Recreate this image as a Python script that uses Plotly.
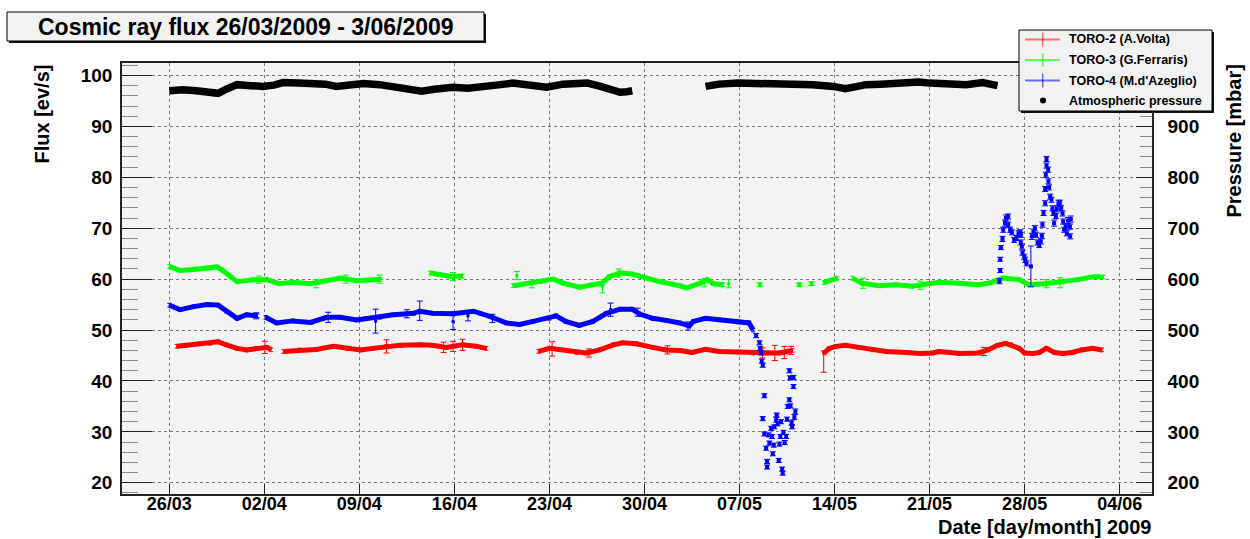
import plotly.graph_objects as go
import pandas as pd

# ---------------- data ----------------
# time: days since 26/03/2009 00:00 ; flux in ev/s ; pressure in mbar
BASE = pd.Timestamp("2009-03-26")

tick_dates = ["2009-03-26", "2009-04-02", "2009-04-09", "2009-04-16", "2009-04-23",
              "2009-04-30", "2009-05-07", "2009-05-14", "2009-05-21", "2009-05-28", "2009-06-04"]
tick_labels = ["26/03", "02/04", "09/04", "16/04", "23/04", "30/04",
               "07/05", "14/05", "21/05", "28/05", "04/06"]
flux_ticks = [20, 30, 40, 50, 60, 70, 80, 90, 100]
pressure_ticks = [200, 300, 400, 500, 600, 700, 800, 900]

# TORO-2 (A.Volta) – red, continuous segments
red_t = [
    [0.55, 1.3, 2.3, 3.0, 3.6, 4.2, 5.0, 5.7, 6.4, 7.2, 7.5],
    [8.4, 9.6, 10.8, 12.1, 13.1, 14.1, 15.0, 16.0, 17.0, 18.45, 19.4, 20.4, 21.6, 22.6, 23.35],
    [27.2, 28.0, 28.7, 30.0, 30.7, 31.7, 32.7, 33.4, 34.4, 35.6, 36.6, 37.6, 38.5, 39.5, 40.5,
     41.9, 43.0, 44.0, 44.9, 45.9],
    [48.25, 48.6, 49.1, 49.8, 50.8, 51.8, 52.8, 54.3, 55.3, 56.2, 56.7, 58.2, 59.6, 60.3, 61.0,
     61.6, 62.0, 62.6, 63.0, 63.6, 64.1, 64.6, 65.2, 65.8, 66.5, 67.2, 68.0, 68.7],
]
red_v = [
    [46.8, 47.0, 47.3, 47.4, 47.7, 47.1, 46.4, 46.1, 46.4, 46.6, 46.1],
    [45.8, 46.1, 46.2, 46.8, 46.4, 46.1, 46.4, 46.8, 47.0, 47.1, 47.0, 46.6, 47.1, 46.8, 46.4],
    [45.8, 46.4, 46.2, 45.6, 45.5, 46.1, 47.1, 47.5, 47.3, 46.6, 46.1, 46.0, 45.6, 46.2, 45.8,
     45.7, 45.5, 45.5, 45.5, 46.0],
    [45.5, 46.4, 46.8, 47.0, 46.6, 46.1, 45.8, 45.6, 45.4, 45.5, 45.8, 45.4, 45.5, 46.1, 47.0,
     47.4, 47.1, 46.4, 45.5, 45.4, 45.6, 46.4, 45.6, 45.4, 45.6, 46.1, 46.4, 46.1],
]
red_err = 0.35
# red points with visible (larger) error bars
red_bar_t = [7.05, 16.0, 20.2, 20.9, 21.6, 28.2, 30.9, 36.7, 43.7, 44.6, 45.3, 45.8, 48.2, 60.0]
red_bar_v = [46.6, 46.8, 46.6, 46.8, 47.1, 46.3, 45.5, 46.1, 45.5, 45.5, 45.6, 46.0, 45.6, 45.8]
red_bar_up = [1.2, 1.3, 1.0, 1.0, 1.1, 1.4, 0.8, 0.8, 1.0, 1.5, 1.2, 0.8, 0.3, 0.8]
red_bar_dn = [1.2, 1.3, 1.0, 1.0, 1.1, 1.4, 0.8, 0.8, 1.0, 1.5, 1.2, 0.8, 3.9, 0.8]

# TORO-3 (G.Ferraris) – green
green_t = [
    [0, 0.8, 1.8, 2.8, 3.5, 3.9, 4.5, 5.0, 6.2, 7.2, 8.1, 9.1, 10.4, 11.6, 12.6, 13.8, 15.55],
    [19.2, 19.9, 20.8, 21.6],
    [25.3, 26.3, 27.3, 28.3, 29.0, 30.2, 31.2, 31.9, 32.4, 33.2, 34.1, 35.1, 36.1, 37.6, 38.1,
     39.1, 39.6, 40.1, 40.8],
    [43.4, 43.6],
    [46.3, 46.5],
    [47.2, 47.4],
    [48.2, 48.6, 49.2],
    [50.3, 51.0, 52.3, 53.5, 54.7, 55.9, 56.7, 58.2, 59.6, 60.5, 61.4, 62.6, 63.3, 64.5, 65.9,
     66.9, 68.2, 68.8],
]
green_v = [
    [62.5, 61.7, 61.9, 62.2, 62.4, 61.8, 60.5, 59.5, 59.9, 59.9, 59.1, 59.4, 59.1, 59.7, 60.2, 59.7, 60.0],
    [61.2, 60.9, 60.5, 60.6],
    [58.7, 59.1, 59.5, 60.0, 59.2, 58.4, 58.9, 59.2, 60.5, 61.2, 61.0, 60.2, 59.5, 58.7, 58.3,
     59.2, 59.9, 59.1, 58.9],
    [58.9, 58.9],
    [58.9, 58.9],
    [59.1, 59.1],
    [59.3, 59.7, 60.2],
    [60.2, 59.2, 58.7, 58.9, 58.6, 59.1, 59.4, 59.2, 58.9, 59.3, 60.2, 59.9, 58.9, 59.1, 59.5,
     59.9, 60.5, 60.4],
]
green_err = 0.35
green_bar_t = [6.6, 10.8, 13.0, 15.5, 20.9, 25.6, 26.7, 31.9, 33.1, 39.4, 41.2, 51.1, 55.3, 64.6, 65.6]
green_bar_v = [59.9, 59.1, 60.0, 60.0, 60.5, 60.7, 59.1, 58.6, 61.2, 59.3, 59.1, 59.2, 58.8, 59.1, 59.3]
green_bar_e = [0.7, 0.8, 0.8, 0.8, 0.8, 0.8, 0.8, 1.3, 0.8, 0.8, 0.8, 1.0, 0.8, 0.8, 1.0]

# TORO-4 (M.d'Azeglio) – blue
blue_t = [
    [0, 0.8, 1.8, 2.8, 3.6, 4.2, 5.0, 5.7, 6.5],
    [7.1, 7.9, 9.1, 10.4, 11.6, 12.6, 13.8, 14.5, 15.5, 16.5, 18.0, 18.45, 19.4, 20.9, 22.4,
     23.6, 24.8, 25.8, 26.8, 28.0, 28.5, 29.2, 30.2, 31.2, 32.2, 33.2, 34.1, 34.6, 35.6, 36.6,
     37.6, 38.3, 38.6, 39.5, 40.5, 41.9, 42.7, 43.0],
]
blue_v = [
    [54.9, 54.0, 54.6, 55.0, 54.9, 53.7, 52.3, 53.0, 52.8],
    [52.5, 51.4, 51.8, 51.5, 52.5, 52.5, 52.0, 52.3, 52.5, 53.0, 53.3, 53.7, 53.3, 53.2, 53.7,
     52.7, 51.4, 51.1, 51.7, 52.3, 52.8, 51.7, 50.9, 51.7, 53.3, 54.1, 54.1, 53.2, 52.3, 51.9,
     51.4, 50.8, 51.7, 52.3, 52.0, 51.6, 51.4, 50.0],
]
blue_err = 0.35
blue_bar_t = [6.4, 11.7, 15.2, 17.5, 18.45, 20.9, 22.0, 23.8, 32.5, 34.5, 38.2]
blue_bar_v = [52.8, 52.5, 51.75, 53.2, 53.8, 51.7, 52.8, 52.3, 54.0, 53.5, 50.8]
blue_bar_e = [0.6, 1.0, 2.35, 0.8, 1.9, 1.6, 1.0, 0.8, 1.3, 0.8, 0.8]
# scattered blue points, early May drop
blue_drop_t = [43.22, 43.47, 43.52, 43.59, 43.64, 43.71, 43.83, 43.71, 43.83, 43.96,
               44.03, 44.03, 44.15, 44.2, 44.33, 44.4, 44.45, 44.52, 44.57, 44.7,
               44.74, 44.81, 44.89, 44.94, 45.01, 45.06, 45.14, 45.18, 45.23, 45.33,
               45.43, 45.5, 45.55, 45.67, 45.72, 45.67, 45.75, 45.84, 45.87, 45.97,
               45.97, 46.04, 46.11]
blue_drop_v = [48.9, 47.5, 46.4, 45.5, 43.9, 43.1, 37.1, 32.6, 29.6, 26.8,
               24.2, 23.1, 29.4, 27.8, 30.7, 29.1, 25.7, 27.4, 31.0, 32.4,
               33.3, 31.6, 24.4, 27.6, 29.1, 32.0, 22.7, 21.9, 29.9, 27.9,
               29.1, 32.5, 35.0, 36.3, 40.6, 42.0, 35.1, 31.8, 31.0, 38.9,
               40.7, 32.9, 34.0]
blue_drop_e = [0.4, 0.4, 0.4, 0.4, 0.4, 0.4, 0.4, 0.4, 0.4, 0.4,
               0.4, 0.4, 0.4, 0.4, 0.4, 0.4, 0.4, 0.4, 0.4, 0.5,
               0.4, 0.4, 0.4, 0.4, 0.4, 0.4, 0.4, 0.4, 0.4, 0.4,
               0.4, 0.4, 0.4, 0.4, 0.4, 0.4, 0.4, 0.5, 0.4, 0.4,
               0.4, 0.5, 0.5]
# scattered blue points, end of May spike
blue_spike_t = [61.15, 61.2, 61.2, 61.25, 61.37, 61.42, 61.55, 61.62, 61.79, 61.79,
                61.93, 62.06, 62.23, 62.4, 62.55, 62.67, 62.72, 62.72, 62.8, 62.84,
                62.97, 63.04, 63.14, 63.46, 63.53, 63.65, 63.75, 63.83, 63.95, 64.07,
                64.19, 64.27, 64.31, 64.39, 64.51, 64.51, 64.56, 64.61, 64.61, 64.73,
                64.75, 64.8, 64.88, 64.98, 65.05, 65.12, 65.17, 65.3, 65.37, 65.49,
                65.59, 65.69, 65.79, 65.84, 65.91, 66.03, 66.11, 66.2, 66.33, 66.35, 66.4]
blue_spike_v = [59.6, 61.7, 63.9, 66.2, 67.9, 69.7, 71.0, 72.0, 72.3, 70.7,
                69.7, 69.2, 67.7, 68.1, 69.0, 69.2, 68.7, 67.2, 66.4, 65.2,
                64.4, 63.8, 63.1, 62.5, 68.4, 69.2, 70.0, 68.7, 67.2, 66.7,
                67.4, 68.5, 70.7, 73.0, 74.9, 77.7, 80.5, 82.3, 83.6, 81.5,
                79.2, 78.0, 76.2, 75.6, 73.9, 73.0, 71.0, 72.4, 73.8, 74.9,
                75.0, 73.9, 72.9, 71.3, 69.7, 70.3, 69.0, 71.5, 70.3, 68.4, 71.8]
blue_spike_e = [0.5, 0.4, 0.4, 0.4, 0.5, 0.5, 0.6, 0.6, 0.5, 0.5,
                0.5, 0.5, 0.5, 0.5, 0.5, 0.5, 0.5, 0.5, 0.5, 0.5,
                0.5, 0.5, 0.5, 4.0, 0.6, 0.6, 0.5, 0.5, 0.5, 0.5,
                0.5, 0.5, 0.5, 0.5, 0.5, 0.5, 0.5, 0.5, 0.5, 0.5,
                0.5, 0.5, 0.5, 0.5, 0.5, 0.5, 0.6, 0.5, 0.6, 0.6,
                0.5, 0.5, 0.5, 0.5, 0.5, 0.5, 0.5, 0.6, 0.5, 0.5, 0.6]

# Atmospheric pressure – black (mbar)
pres_t = [
    [0, 1.0, 2.0, 3.0, 3.6, 4.2, 5.0, 6.0, 6.9, 7.7, 8.4, 9.5, 10.6, 11.5, 12.3, 13.3, 14.3,
     15.5, 16.7, 17.7, 18.6, 19.5, 20.9, 22.0, 23.4, 24.4, 25.3, 26.5, 27.8, 29.0, 30.0, 30.8,
     31.7, 32.5, 33.2, 33.7, 34.1],
    [39.5, 40.5, 41.9, 43.5, 44.9, 46.2, 47.4, 48.9, 49.8, 50.6, 51.3, 52.4, 53.5, 54.4, 55.2,
     56.0, 56.7, 57.7, 58.7, 59.9, 60.5, 61.0],
]
pres_v = [
    [970, 972, 970, 967, 965, 973, 982, 980, 978.5, 981, 986, 985, 984, 983, 978.5, 981, 984,
     982, 977, 974, 969, 973, 977, 975, 977, 982, 985, 982, 977, 983, 986, 985,
     979, 972, 967, 968, 970],
    [978.5, 983, 985, 984, 986, 984, 982, 978.5, 974, 978, 982, 983, 985, 984, 987,
     985, 984, 982, 982, 986, 983, 980],
]

series_names = ["TORO-2 (A.Volta)", "TORO-3 (G.Ferraris)", "TORO-4 (M.d'Azeglio)", "Atmospheric pressure"]

# ---------------- helpers ----------------
def to_date(t):
    return (BASE + pd.Timedelta(days=t)).strftime("%Y-%m-%d %H:%M:%S")

def join(segs_t, segs_v):
    xs, ys = [], []
    for st, sv in zip(segs_t, segs_v):
        if xs:
            xs.append(None)
            ys.append(None)
        xs += [to_date(t) for t in st]
        ys += list(sv)
    return xs, ys

# pixel geometry of the frame
PL, PR, PT, PB = 122, 1152, 63, 494
def xp(X):
    return (X - PL) / (PR - PL)
def yp(Y):
    return (PB - Y) / (PB - PT)

RED, GREEN, BLUE = "#ff0000", "#00ff00", "#0000ff"
FONT = "Liberation Sans, Arial, Helvetica, sans-serif"

fig = go.Figure()

# pressure (right axis)
px_, py_ = join(pres_t, pres_v)
fig.add_trace(go.Scatter(x=px_, y=py_, mode="lines", yaxis="y2", name=series_names[3],
                         line=dict(color="black", width=7.5), showlegend=False))

def add_band(segs_t, segs_v, err, color, name):
    x, y = join(segs_t, segs_v)
    e = [None if v is None else err for v in y]
    fig.add_trace(go.Scatter(x=x, y=y, mode="lines", name=name, showlegend=False,
                             line=dict(color=color, width=5),
                             error_y=dict(type="data", array=e, visible=True, color=color,
                                          thickness=1, width=2)))

def add_points(ts, vs, eu, ed, color, name, size=4):
    fig.add_trace(go.Scatter(x=[to_date(t) for t in ts], y=vs, mode="markers", name=name,
                             showlegend=False,
                             marker=dict(color=color, size=size, symbol="square", line=dict(width=0)),
                             error_y=dict(type="data", symmetric=False, array=eu, arrayminus=ed,
                                          visible=True, color=color, thickness=1, width=3)))

add_band(red_t, red_v, red_err, RED, series_names[0])
add_points(red_bar_t, red_bar_v, red_bar_up, red_bar_dn, RED, series_names[0], size=3)
add_band(green_t, green_v, green_err, GREEN, series_names[1])
add_points(green_bar_t, green_bar_v, green_bar_e, green_bar_e, GREEN, series_names[1], size=3)
add_band(blue_t, blue_v, blue_err, BLUE, series_names[2])
add_points(blue_bar_t, blue_bar_v, blue_bar_e, blue_bar_e, BLUE, series_names[2], size=3)
add_points(blue_drop_t, blue_drop_v, blue_drop_e, blue_drop_e, BLUE, series_names[2])
add_points(blue_spike_t, blue_spike_v, blue_spike_e, blue_spike_e, BLUE, series_names[2])

# ---------------- shapes: title box & legend ----------------
shapes = []
def rect(x0, y0, x1, y1, fill, line_color=None, lw=0):
    shapes.append(dict(type="rect", xref="paper", yref="paper",
                       x0=xp(x0), x1=xp(x1), y0=yp(y1), y1=yp(y0),
                       fillcolor=fill, line=dict(color=line_color or fill, width=lw)))
def seg(x0, y0, x1, y1, color, w):
    shapes.append(dict(type="line", xref="paper", yref="paper",
                       x0=xp(x0), x1=xp(x1), y0=yp(y0), y1=yp(y1),
                       line=dict(color=color, width=w)))

# title box with shadow
rect(9, 14, 486, 43, "#111111")
rect(7, 12, 484, 41, "#f2f2f2", "black", 1)
# legend box with shadow
rect(1021, 32, 1214, 113, "#111111")
rect(1019, 30, 1212, 111, "#f2f2f2", "black", 1)

legend_rows = [39.5, 60, 80.5, 100.5]
legend_cols = ["rgba(255,0,0,0.55)", "rgba(0,255,0,0.6)", "rgba(0,0,255,0.55)"]
for yy, c in zip(legend_rows[:3], legend_cols):
    seg(1025, yy, 1060, yy, c, 2)
    seg(1042.7, yy - 7, 1042.7, yy + 7, c, 1.5)
shapes.append(dict(type="circle", xref="paper", yref="paper",
                   x0=xp(1040), x1=xp(1046), y0=yp(legend_rows[3] + 3), y1=yp(legend_rows[3] - 3),
                   fillcolor="black", line=dict(color="black", width=0)))

annotations = [
    dict(text="<b>Cosmic ray flux 26/03/2009 - 3/06/2009</b>", x=xp(245.5), y=yp(27),
         xanchor="center", yanchor="middle", font=dict(family=FONT, size=23, color="black")),
    dict(text="<b>Flux [ev/s]</b>", x=xp(41), y=yp(63), textangle=-90,
         xanchor="center", yanchor="top", font=dict(family=FONT, size=20, color="black")),
    dict(text="<b>Pressure [mbar]</b>", x=xp(1233), y=yp(63), textangle=-90,
         xanchor="center", yanchor="top", font=dict(family=FONT, size=20, color="black")),
    dict(text="<b>Date [day/month] 2009</b>", x=xp(1153), y=yp(527),
         xanchor="right", yanchor="middle", font=dict(family=FONT, size=20, color="black")),
]
for yy, name in zip(legend_rows, series_names):
    annotations.append(dict(text="<b>" + name + "</b>", x=xp(1067), y=yp(yy),
                            xanchor="left", yanchor="middle",
                            font=dict(family=FONT, size=12.5, color="black")))
for a in annotations:
    a.update(xref="paper", yref="paper", showarrow=False)

GRID = dict(showgrid=True, gridcolor="#7a7a7a", griddash="dot", gridwidth=1, zeroline=False)

fig.update_layout(
    width=1250, height=539,
    margin=dict(l=PL, r=1250 - PR, t=PT, b=539 - PB, autoexpand=False),
    paper_bgcolor="white", plot_bgcolor="#f3f3f3",
    showlegend=False,
    xaxis=dict(type="date", range=["2009-03-22 12:29", "2009-06-06 09:07"],
               tickmode="array", tickvals=tick_dates, ticktext=tick_labels,
               ticks="inside", ticklen=10, tickcolor="#222", tickwidth=1,
               showline=True, linecolor="#222", linewidth=1.5, mirror=True,
               tickfont=dict(family=FONT, size=18, color="black", weight="bold"),
               ticklabelstandoff=-7, **GRID),
    yaxis=dict(range=[17.8, 102.45], tickmode="array", tickvals=flux_ticks,
               ticks="inside", ticklen=30, tickcolor="#222", tickwidth=1,
               minor=dict(ticks="inside", ticklen=16, dtick=2, tick0=0, tickcolor="#8a8a8a", showgrid=False),
               showline=True, linecolor="#222", linewidth=1.5,
               tickfont=dict(family=FONT, size=19, color="black", weight="bold"),
               ticklabelstandoff=4, **GRID),
    yaxis2=dict(range=[178, 1024.5], overlaying="y", side="right", anchor="x",
                tickmode="array", tickvals=pressure_ticks,
                ticks="inside", ticklen=16, tickcolor="#222", tickwidth=1,
                minor=dict(ticks="inside", ticklen=12, dtick=20, tick0=0, tickcolor="#8a8a8a", showgrid=False),
                showline=True, linecolor="#222", linewidth=1.5, showgrid=False, zeroline=False,
                tickfont=dict(family=FONT, size=19, color="black", weight="bold"),
                ticklabelstandoff=10),
    shapes=shapes,
    annotations=annotations,
)

fig.write_html("out.html", config={"displayModeBar": False},
               post_script="document.body.style.margin='0px';document.body.style.overflow='hidden';")
